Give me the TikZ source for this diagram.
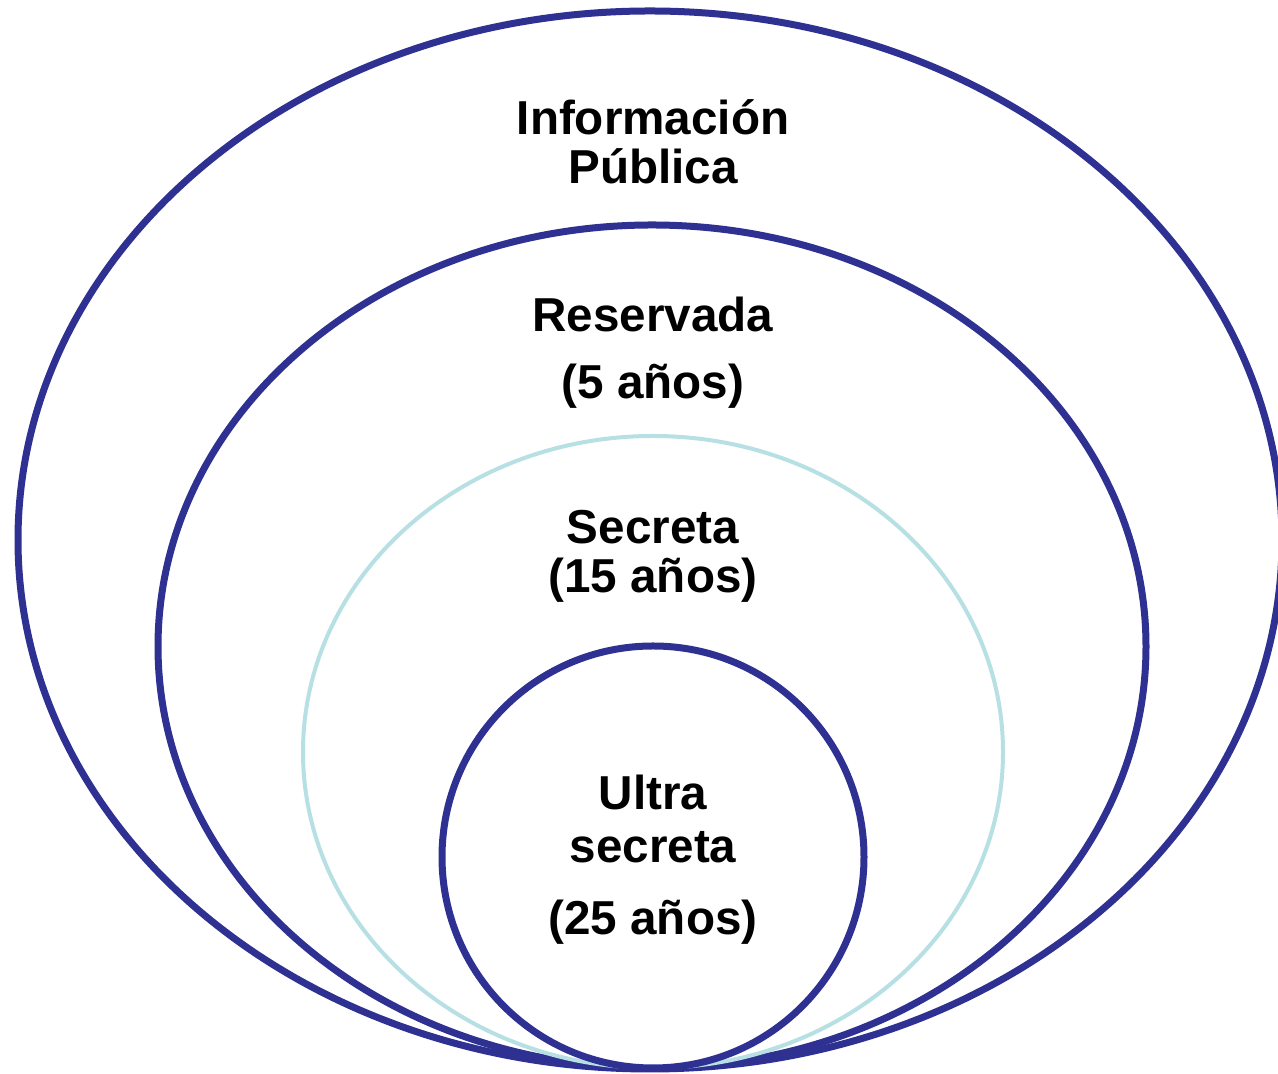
\documentclass[tikz,border=0pt]{standalone}
\usepackage{fontspec}
\setmainfont{Liberation Sans}
\usepackage{tikz}
\usetikzlibrary{positioning}
\definecolor{ringblue}{RGB}{46,49,146}
\definecolor{ringcyan}{RGB}{183,224,228}

\tikzset{
  ring/.style={draw=ringblue, line width=7*0.02cm, fill=white},
  softring/.style={draw=ringcyan, line width=4*0.02cm, fill=white},
  lbl/.style={font=\fontsize{27.1}{30}\selectfont\bfseries, anchor=base, inner sep=0pt}
}

\begin{document}
\begin{tikzpicture}[x=0.02cm, y=0.02cm]
\useasboundingbox (0,0) rectangle (1278,1074);

% Nested rings, all touching at the bottom
\draw[ring] (650,534) ellipse (632 and 529);
\draw[ring] (652,427.5) ellipse (494 and 421.5);
\draw[softring] (653,322) ellipse (350 and 316);
\draw[ring] (653,217) circle (211);

% Outer ring
\node[lbl] (pub1) at (653,939) {Información};
\node[lbl] (pub2) at (653,890) {Pública};

% Second ring
\node[lbl] (res1) at (653,742) {Reservada};
\node[lbl] (res2) at (653,675) {(5 años)};

% Third ring
\node[lbl] (sec1) at (653,530) {Secreta};
\node[lbl] (sec2) at (653,481) {(15 años)};

% Inner circle
\node[lbl] (ult1) at (653,264) {Ultra};
\node[lbl] (ult2) at (653,211) {secreta};
\node[lbl] (ult3) at (653,139) {(25 años)};
\end{tikzpicture}
\end{document}
